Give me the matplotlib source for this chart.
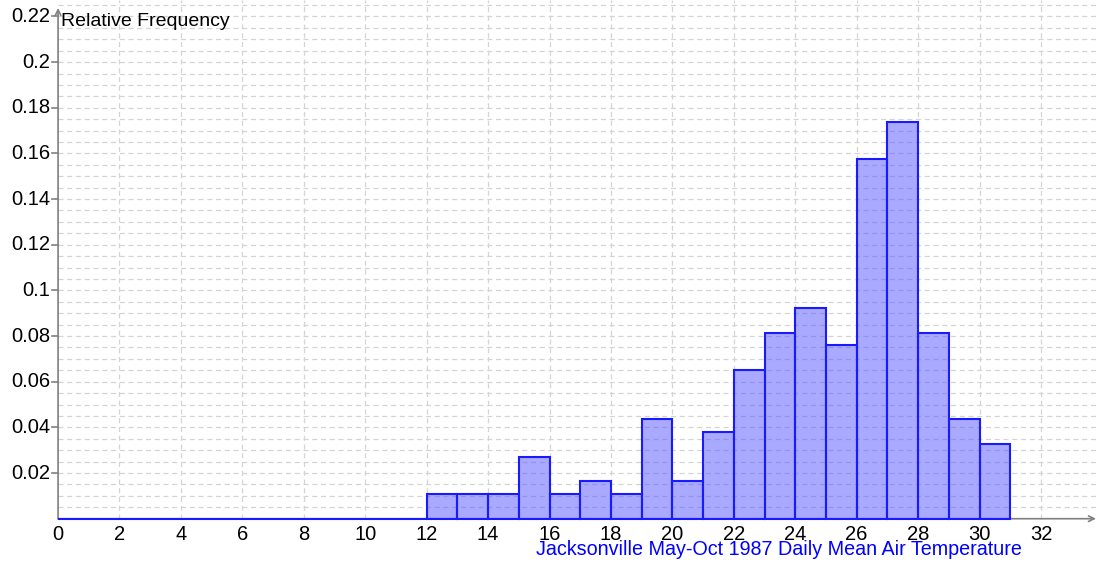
"""
Relative frequency histogram of Jacksonville May-Oct 1987 daily mean air temperature.
"""

import matplotlib.pyplot as plt
import numpy as np

plt.rcParams['font.family'] = ['Liberation Sans', 'DejaVu Sans']

# Histogram data: 1-degree bins from 0 to 31, counts out of 184 days
bin_edges = np.arange(0, 32)
counts = [0, 0, 0, 0, 0, 0, 0, 0, 0, 0, 0, 0,
          2, 2, 2, 5, 2, 3, 2, 8, 3, 7, 12, 15, 17, 14, 29, 32, 15, 8, 6]
n_days = 184
rel_freq = np.array(counts) / n_days

x_ticks = np.arange(0, 33, 2)
y_ticks = np.arange(1, 12) * 0.02
y_ticklabels = ['0.02', '0.04', '0.06', '0.08', '0.1', '0.12', '0.14',
                '0.16', '0.18', '0.2', '0.22']

xlabel = 'Jacksonville May-Oct 1987 Daily Mean Air Temperature'
ylabel = 'Relative Frequency'

# View window (axes fill the whole figure, like the original app)
xmin, xmax = -1.89, 33.89
ymin, ymax = -0.0194, 0.2272

fig = plt.figure(figsize=(10.99, 5.63), dpi=100)
ax = fig.add_axes([0, 0, 1, 1])
ax.set_xlim(xmin, xmax)
ax.set_ylim(ymin, ymax)
ax.axis('off')

#########################
# Grid
#########################
grid_kw = dict(color='#d4d4d4', lw=0.9, ls=(0, (4, 3)), zorder=0)
ax.hlines(np.arange(0.005, ymax, 0.005), 0, xmax, **grid_kw)
ax.vlines(np.arange(2, xmax, 2), 0, ymax, **grid_kw)

#########################
# Bars
#########################
ax.bar(bin_edges[:-1], rel_freq, width=1, align='edge',
       color=(0.33, 0.33, 1.0, 0.5), edgecolor='#1a1aff', lw=1.5, zorder=3)

#########################
# Axes with arrows
#########################
axis_col = '#808080'
ax.annotate('', xy=(xmax - 0.1, 0), xytext=(0, 0),
            arrowprops=dict(arrowstyle='->', color=axis_col, lw=1.2,
                            shrinkA=0, shrinkB=0), zorder=2)
ax.annotate('', xy=(0, 0.2237), xytext=(0, 0),
            arrowprops=dict(arrowstyle='->', color=axis_col, lw=1.2,
                            shrinkA=0, shrinkB=0), zorder=2)

# tick marks and labels
for yt, lab in zip(y_ticks, y_ticklabels):
    ax.plot([-0.2, 0], [yt, yt], color=axis_col, lw=1.2, zorder=2)
    ax.text(-0.26, yt, lab, ha='right', va='center', fontsize=14.5)
for xt in x_ticks:
    ax.text(xt, -0.0028, str(xt), ha='center', va='top', fontsize=14.5)

ax.text(0.1, 0.2177, ylabel, ha='left', va='center', fontsize=14)
ax.text(23.47, -0.0094, xlabel, ha='center', va='top', fontsize=14.2,
        color='#0000ff')

fig.savefig('out.png', dpi=100)
